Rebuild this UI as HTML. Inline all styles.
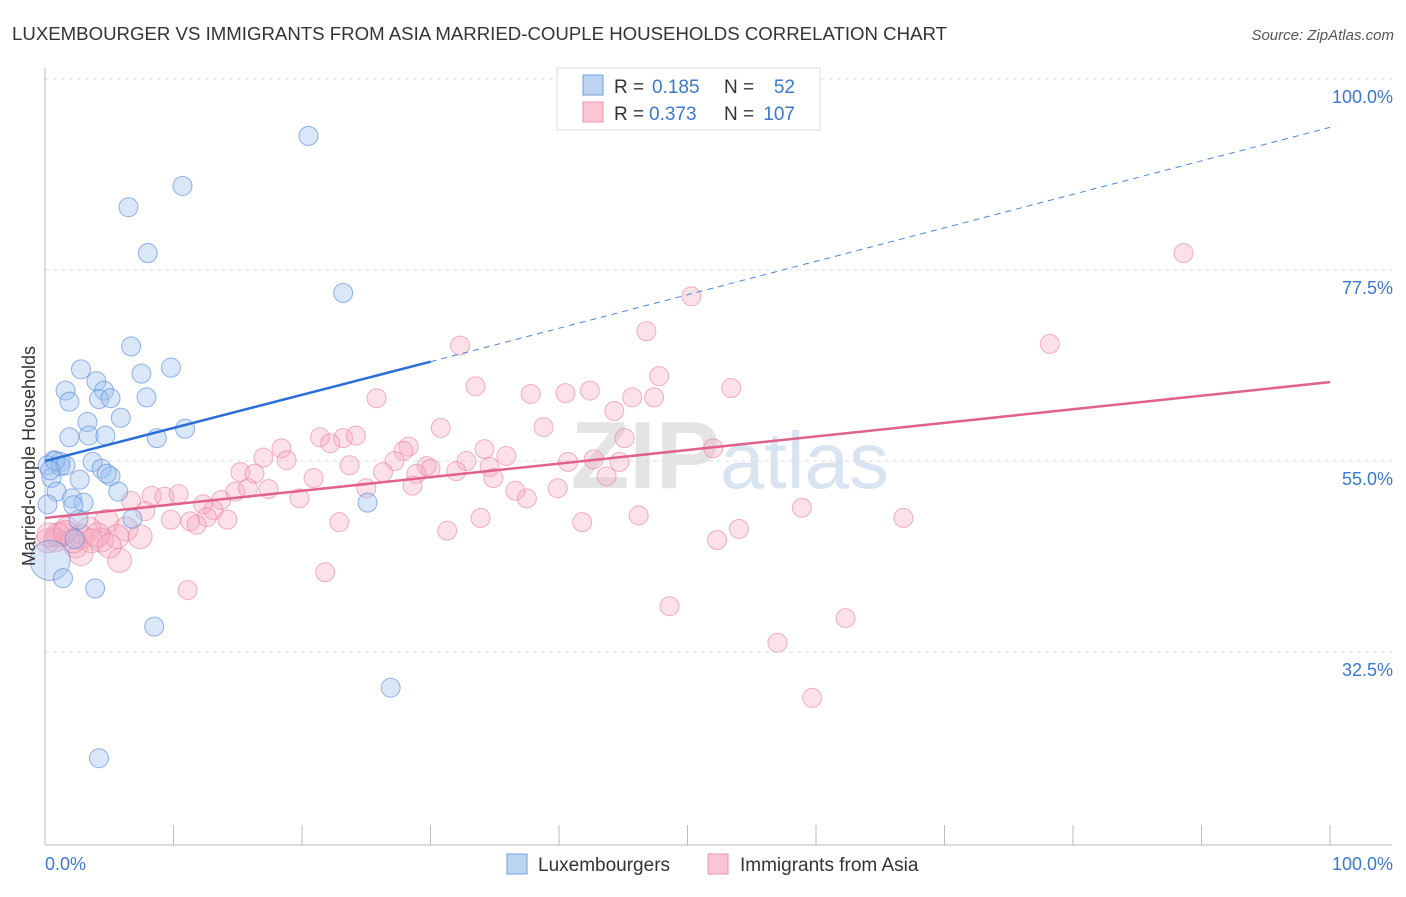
<!DOCTYPE html>
<html><head><meta charset="utf-8"><style>
body{margin:0;background:#fff;font-family:"Liberation Sans",sans-serif;}
svg text{font-family:"Liberation Sans",sans-serif;}
</style></head><body>
<svg id="chart" width="1406" height="892" xmlns="http://www.w3.org/2000/svg">
<text x="12" y="40" font-size="18" fill="#333" textLength="935" lengthAdjust="spacingAndGlyphs">LUXEMBOURGER VS IMMIGRANTS FROM ASIA MARRIED-COUPLE HOUSEHOLDS CORRELATION CHART</text>
<text x="1394" y="40" font-size="15" fill="#555" text-anchor="end" font-style="italic">Source: ZipAtlas.com</text>
<text x="720" y="488" font-size="96" fill="#e4e4e4" text-anchor="end" font-family="Liberation Serif" font-weight="bold">ZIP</text>
<text x="720" y="488" font-size="80" fill="#d8e4f2">atlas</text>
<g id="grid"></g><g id="axes"></g><g id="marks"></g>
<text transform="translate(35,456) rotate(-90)" font-size="18" fill="#333" text-anchor="middle">Married-couple Households</text>
<text x="45" y="870" font-size="18" fill="#3a78d0">0.0%</text>
<text x="1393" y="870" font-size="18" fill="#3a78d0" text-anchor="end">100.0%</text>
<g>
<rect x="557" y="68" width="263" height="62" fill="#fff" stroke="#ddd"/>
<rect x="583" y="75" width="20" height="20" fill="#bcd4f2" stroke="#6f9fdc"/>
<rect x="583" y="102" width="20" height="20" fill="#f9c6d4" stroke="#e890aa"/>
<text x="614" y="93" font-size="19" fill="#333">R =</text>
<text x="652" y="93" font-size="19" fill="#3a78d0">0.185</text>
<text x="724" y="93" font-size="19" fill="#333">N =</text>
<text x="795" y="93" font-size="19" fill="#3a78d0" text-anchor="end">52</text>
<text x="614" y="120" font-size="19" fill="#333">R =</text>
<text x="649" y="120" font-size="19" fill="#3a78d0">0.373</text>
<text x="724" y="120" font-size="19" fill="#333">N =</text>
<text x="795" y="120" font-size="19" fill="#3a78d0" text-anchor="end">107</text>
</g>
<g>
<rect x="507" y="854" width="20" height="20" fill="#bcd4f2" stroke="#6f9fdc"/>
<text x="538" y="871" font-size="19" fill="#333">Luxembourgers</text>
<rect x="708" y="854" width="20" height="20" fill="#f9c6d4" stroke="#e890aa"/>
<text x="740" y="871" font-size="19" fill="#333">Immigrants from Asia</text>
</g>
</svg>
<script>
const yTicks=[100,77.5,55,32.5];
const yTickLabels=["100.0%","77.5%","55.0%","32.5%"];
const xTicks=[0,10,20,30,40,50,60,70,80,90,100];
const blueX=[20.5,10.7,6.5,8.0,23.2,6.7,2.8,9.8,7.5,1.6,4.0,4.6,1.9,4.2,5.1,7.9,5.9,3.3,1.9,3.4,4.7,8.7,10.9,0.7,1.2,0.2,3.7,4.4,5.1,0.5,2.7,0.9,5.7,2.1,3.0,0.2,2.6,6.8,2.3,0.4,1.4,3.9,8.5,25.1,26.9,4.2,1.2,0.8,1.6,2.2,0.4,4.8];
const blueY=[93.3,87.4,84.9,79.5,74.8,68.5,65.8,66.0,65.3,63.3,64.4,63.3,62.0,62.3,62.4,62.5,60.1,59.6,57.8,58.0,58.0,57.7,58.8,55.1,54.9,54.5,54.9,54.1,53.2,53.0,52.8,51.4,51.4,50.6,50.1,49.9,48.1,48.2,45.8,43.3,41.2,40.0,35.5,50.1,28.3,20.0,54.4,55.0,54.5,49.8,53.9,53.5];
const pinkX=[88.6,50.3,46.8,78.2,32.3,33.5,53.4,47.8,40.5,42.4,45.7,47.4,37.8,25.8,44.3,30.8,38.8,45.1,21.4,23.2,24.2,22.2,18.4,28.3,27.9,34.2,52.0,17.0,18.8,23.7,27.2,29.7,32.8,35.9,40.7,42.7,44.7,15.2,16.3,20.9,26.3,34.6,30.0,28.9,32.0,25.0,28.6,17.4,19.8,34.9,36.6,37.5,39.9,43.7,6.7,8.3,9.3,10.4,14.8,13.7,15.8,13.1,12.3,7.8,12.6,11.3,11.8,14.2,9.8,22.9,33.9,41.8,46.2,58.9,66.8,31.3,54.0,52.3,6.3,4.8,5.6,4.4,3.4,2.8,1.3,1.7,2.4,0.8,0.2,1.0,4.1,3.6,7.4,5.8,2.8,11.1,21.8,48.6,62.3,57.0,59.7,2.2,5.0,0.3,1.6];
const pinkY=[79.5,74.4,70.3,68.8,68.6,63.8,63.6,65.0,63.0,63.3,62.5,62.5,62.9,62.4,60.9,58.9,59.0,57.7,57.8,57.7,58.0,57.1,56.5,56.7,56.2,56.4,56.5,55.4,55.1,54.5,55.0,54.4,55.0,55.6,54.9,55.2,54.9,53.7,53.5,53.0,53.7,54.3,54.1,53.5,53.8,51.8,52.1,51.7,50.6,53.0,51.5,50.6,51.8,53.2,50.3,50.9,50.8,51.1,51.4,50.4,51.8,49.2,49.9,49.1,48.4,47.9,47.5,48.1,48.1,47.8,48.3,47.8,48.6,49.5,48.3,46.8,47.0,45.7,47.0,47.9,46.1,45.7,47.0,46.1,46.4,47.0,45.0,45.7,45.6,46.3,46.3,45.6,46.1,43.3,44.1,39.8,41.9,37.9,36.5,33.6,27.1,45.6,45.0,46.3,46.6];
const blueTrend=[[0,55.0],[30,66.7],[100,94.3]];
const pinkTrend=[[0,48.3],[100,64.3]];
const NS="http://www.w3.org/2000/svg";
const sx=v=>45+v*12.85;
const sy=v=>79+(100-v)*8.49;
function mk(tag,at,parent){const e=document.createElementNS(NS,tag);for(const k in at)e.setAttribute(k,at[k]);parent.appendChild(e);return e;}
const grid=document.getElementById('grid'),axes=document.getElementById('axes'),marks=document.getElementById('marks');
yTicks.forEach((t,i)=>{
 const l=mk('line',{x1:45,x2:1392,y1:sy(t),y2:sy(t),stroke:'#ddd','stroke-dasharray':'4,4'},grid);
 
 
 const tx=mk('text',{x:1393,y:sy(t)+24,'font-size':18,fill:'#3a78d0','text-anchor':'end'},grid);
 tx.textContent=yTickLabels[i];
 
 
});
const xa=mk('line',{x1:45,x2:1392,y1:845,y2:845,stroke:'#bbb'},axes);


const ya=mk('line',{x1:45,x2:45,y1:68,y2:845,stroke:'#bbb'},axes);


xTicks.forEach(t=>{
 const l=mk('line',{x1:sx(t),x2:sx(t),y1:825,y2:845,stroke:'#bbb'},axes);
 
 
});
pinkX.forEach((x,i)=>{
 const r=(x<8&&pinkY[i]<48)?12:9.5;
 const c=mk('circle',{cx:sx(x),cy:sy(pinkY[i]),r:r,fill:'rgba(246,168,192,0.35)',stroke:'rgba(232,128,160,0.6)','stroke-width':1},marks);
 
 
});
blueX.forEach((x,i)=>{
 const r=(i===39)?20:9.5;
 const c=mk('circle',{cx:sx(x),cy:sy(blueY[i]),r:r,fill:'rgba(160,196,240,0.4)',stroke:'rgba(90,140,220,0.65)','stroke-width':1},marks);
 
 
});
const bl=mk('line',{x1:sx(blueTrend[0][0]),y1:sy(blueTrend[0][1]),x2:sx(blueTrend[1][0]),y2:sy(blueTrend[1][1]),stroke:'#2a6fd6','stroke-width':2.5},marks);


const bd=mk('line',{x1:sx(blueTrend[1][0]),y1:sy(blueTrend[1][1]),x2:sx(blueTrend[2][0]),y2:sy(blueTrend[2][1]),stroke:'#4a86d8','stroke-width':1,'stroke-dasharray':'6,5'},marks);


const pl=mk('line',{x1:sx(pinkTrend[0][0]),y1:sy(pinkTrend[0][1]),x2:sx(pinkTrend[1][0]),y2:sy(pinkTrend[1][1]),stroke:'#e0628c','stroke-width':2.5},marks);


</script>
</body></html>
